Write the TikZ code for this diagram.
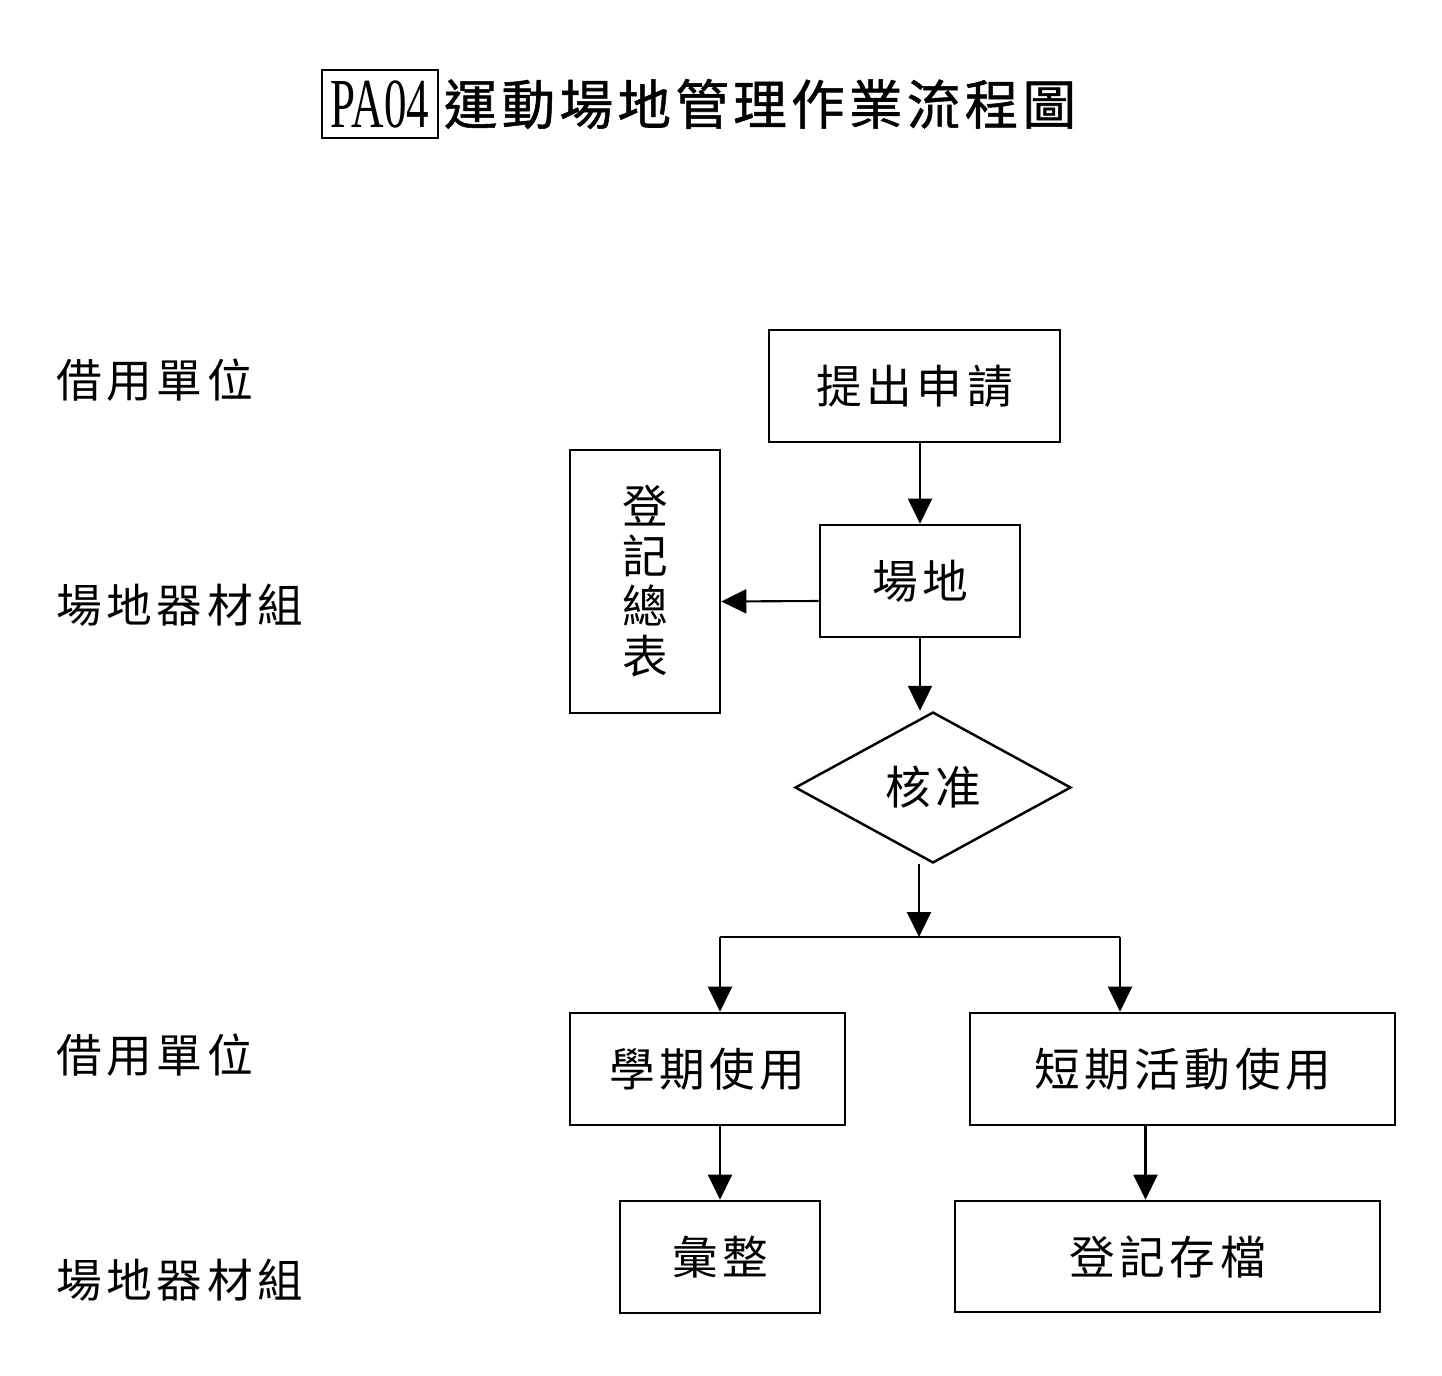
\documentclass[tikz,border=0pt]{standalone}
\usepackage{fontspec}
\usepackage{tikz}
\usetikzlibrary{arrows.meta,shapes.geometric,calc}
\newfontfamily\cjk[LetterSpace=10]{Noto Sans CJK TC}
\newfontfamily\cjktitle[LetterSpace=8,FakeBold=1]{Noto Sans CJK TC}
\newfontfamily\codefont[FakeStretch=0.64]{Liberation Serif}

\begin{document}
\begin{tikzpicture}[x=0.02cm,y=-0.02cm,
  procbox/.style={draw,line width=1.5pt,minimum height=2.24cm,inner sep=0pt,
    font=\cjk\fontsize{26}{28.5}\selectfont},
  decision/.style={draw,diamond,line width=1.4pt,minimum width=5.52cm,
    minimum height=3.02cm,inner sep=0pt,font=\cjk\fontsize{26}{28}\selectfont},
  lane/.style={anchor=west,inner sep=0pt,font=\cjk\fontsize{26}{28}\selectfont},
  arr/.style={-{Triangle[length=0.5cm,width=0.48cm]},line width=1.2pt}]
\useasboundingbox (0,0) rectangle (1442,1375);

% title
\node[draw,line width=0.8pt,minimum width=2.32cm,minimum height=1.36cm,inner sep=0pt,
  font=\codefont\fontsize{40}{40}\selectfont] (code) at (380,104) {PA04};
\node[font=\cjktitle\fontsize{30.5}{32}\selectfont] (title) at (760,104) {運動場地管理作業流程圖};

% lanes
\node[lane] (lane1) at (56,380) {借用單位};
\node[lane] (lane2) at (56,605) {場地器材組};
\node[lane] (lane3) at (56,1055) {借用單位};
\node[lane] (lane4) at (56,1280) {場地器材組};

% steps
\node[procbox,minimum width=5.82cm] (ask) at (914.5,386) {提出申請};
\node[procbox,minimum width=4cm] (site) at (920,581) {場地};
\node[procbox,minimum width=3cm,minimum height=5.26cm,align=center] (regtab) at (645,581.5)
  {登\\記\\總\\表};
\node[decision] (approve) at (933,787.5) {核准};
\node[procbox,minimum width=5.5cm] (term) at (707.5,1069) {學期使用};
\node[procbox,minimum width=8.5cm] (short) at (1182.5,1069) {短期活動使用};
\node[procbox,minimum width=4cm] (collect) at (720,1257) {彙整};
\node[procbox,minimum width=8.5cm,minimum height=2.22cm] (archive) at (1167.5,1256.5) {登記存檔};

% connectors
\coordinate (split) at (919,937);
\coordinate (splitL) at (720,937);
\coordinate (splitR) at (1120,937);
\coordinate (archin) at ($(archive.north)+(-22,0)$);

\draw[arr] (ask.south -| site.north) -- (site.north);
\draw[arr] ($(site.west)+(0,20)$) -- ($(regtab.east)+(0,20)$);
\draw[arr] (site.south) -- (site.south |- approve.north);
\draw[arr] (approve.south -| split) -- (split);
\draw[line width=1.4pt] (splitL) -- (splitR);
\draw[arr] (splitL) -- (splitL |- term.north);
\draw[arr] (splitR) -- (splitR |- short.north);
\draw[arr] (term.south -| collect.north) -- (collect.north);
\draw[arr] (archin |- short.south) -- (archin);
\end{tikzpicture}
\end{document}
